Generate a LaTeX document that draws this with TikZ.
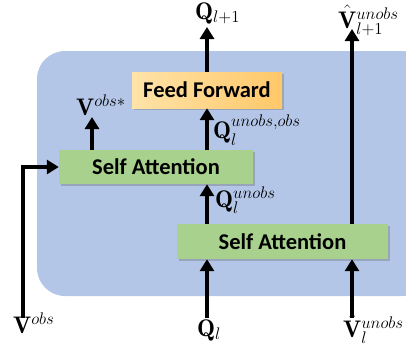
\RequirePackage{fix-cm}
\documentclass[tikz,border=0pt]{standalone}
\usepackage{amsmath}
\usepackage{fontspec}
\newfontfamily\boxfont{Carlito}
\usetikzlibrary{arrows.meta,shadows}
\definecolor{bluebg}{HTML}{B4C6E7}
\definecolor{greenbox}{HTML}{A9D18E}
\definecolor{orangeL}{HTML}{FFE3A8}
\definecolor{orangeR}{HTML}{FFC869}
\tikzset{
  box/.style={draw=none, inner sep=0pt, font=\boxfont\bfseries\fontsize{22.5}{26}\selectfont,
    drop shadow={shadow xshift=2pt, shadow yshift=-2pt, opacity=0.35, fill=black!60}},
  greenb/.style={box, fill=greenbox},
  orangeb/.style={box, left color=orangeL, right color=orangeR},
  arr/.style={line width=4.6pt, -{Triangle[width=14pt,length=12pt]}},
  lbl/.style={anchor=base west, inner sep=0pt, font=\fontsize{24}{28}\selectfont}
}
\begin{document}
\begin{tikzpicture}[x=1pt,y=-1pt]
\useasboundingbox (0,0) rectangle (406,351);
\begin{scope}
\clip (0,0) rectangle (406,351);
\fill[bluebg, rounded corners=28pt] (37,51) rectangle (430,296);
\end{scope}
\node[orangeb, minimum width=150pt, minimum height=36pt] (ff) at (207,90) {Feed Forward};
\node[greenb, minimum width=194pt, minimum height=34pt] (sa1) at (156,167) {Self Attention};
\node[greenb, minimum width=211pt, minimum height=35pt] (sa2) at (282.5,241.5) {Self Attention};
\coordinate (qout) at (207,27);
\coordinate (vout) at (352,29);
\coordinate (vstar) at (92,117);
\coordinate (qin) at (207,318);
\coordinate (vin) at (352,318);
\coordinate (vobsin) at (23,318);
\draw[arr] (ff.north) -- (qout);
\draw[arr] (sa1.north -| vstar) -- (vstar);
\draw[arr] (sa1.north -| ff.south) -- (ff.south);
\draw[arr] (sa2.north -| ff.south) -- (sa1.south -| ff.south);
\draw[arr] (qin) -- (sa2.south -| qin);
\draw[arr] (vin) -- (sa2.south -| vin);
\draw[arr] (sa2.north -| vout) -- (vout);
\draw[arr, line join=miter] (vobsin) |- (sa1.west);
\node[lbl] (lqout) at (195,19) {$\mathbf{Q}_{l+1}$};
\node[lbl] (lvout) at (338,28) {$\hat{\mathbf{V}}^{unobs}_{l+1}$};
\node[lbl] (lvstar) at (76,115) {$\mathbf{V}^{obs*}$};
\node[lbl] (lq2) at (213,138) {$\mathbf{Q}^{unobs,obs}_{l}$};
\node[lbl] (lq1) at (215,207) {$\mathbf{Q}^{unobs}_{l}$};
\node[lbl] (lvobs) at (13,333) {$\mathbf{V}^{obs}$};
\node[lbl] (lqin) at (197,336) {$\mathbf{Q}_{l}$};
\node[lbl] (lvin) at (343,337) {$\hat{\mathbf{V}}^{unobs}_{l}$};
\end{tikzpicture}
\end{document}
